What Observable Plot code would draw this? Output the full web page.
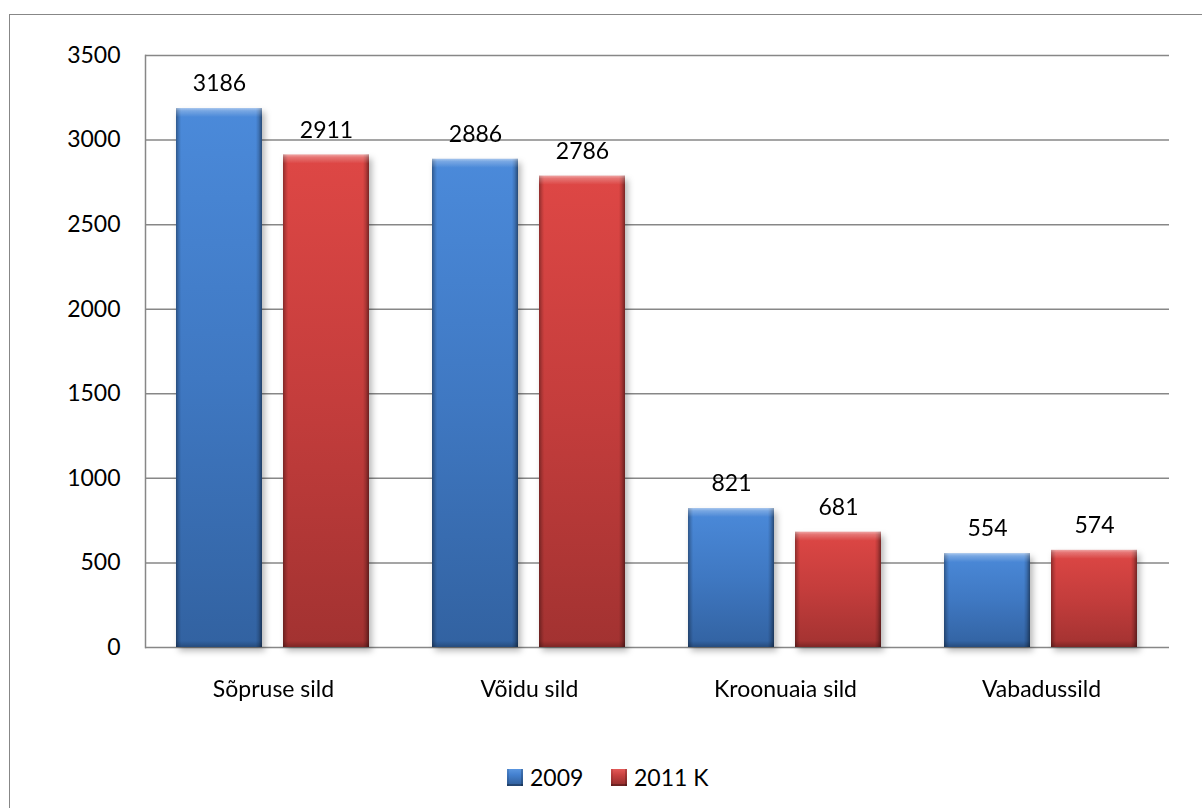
<!DOCTYPE html>
<html><head><meta charset="utf-8">
<script src="https://cdn.jsdelivr.net/npm/d3@7"></script>
<script src="https://cdn.jsdelivr.net/npm/@observablehq/plot@0.6"></script>
<style>
body{margin:0;background:#fff;font-family:Lato,"Open Sans",sans-serif;}
#wrap{position:relative;width:1202px;height:808px;overflow:hidden;background:#fff;}
#frame{position:absolute;left:9px;top:14px;width:1400px;height:1000px;border-left:1.5px solid #878787;border-top:1.5px solid #878787;box-sizing:border-box;}
#chart{position:absolute;left:0;top:0;}
.leg{position:absolute;top:766px;height:22px;display:flex;align-items:center;font-size:23px;color:#000;white-space:nowrap;}
.sw{width:16px;height:17px;margin-right:7px;box-sizing:border-box;}
</style>
</head><body>
<div id="wrap">
  <div id="frame"></div>
  <div id="chart"></div>
  <div class="leg" style="left:507px"><div class="sw" id="sw0"></div><span id="lt0"></span></div>
  <div class="leg" style="left:611px"><div class="sw" id="sw1"></div><span id="lt1"></span></div>
</div>
<script>
const categories = ["Sõpruse sild", "Võidu sild", "Kroonuaia sild", "Vabadussild"];
const seriesNames = ["2009", "2011 K"];
const values2009 = [3186, 2886, 821, 554];
const values2011K = [2911, 2786, 681, 574];
const yTicks = [0, 500, 1000, 1500, 2000, 2500, 3000, 3500];

const data = categories.flatMap((c, i) => [
  {cat: c, series: seriesNames[0], value: values2009[i]},
  {cat: c, series: seriesNames[1], value: values2011K[i]}
]);

const grid = "#878787";
const fxOpts = {fx: "cat", x: "series"};

const chart = Plot.plot({
  width: 1202,
  height: 740,
  marginLeft: 143,
  marginRight: 32,
  marginTop: 55,
  marginBottom: 93,
  style: {fontFamily: "Lato, 'Open Sans', sans-serif", fontSize: "23px", color: "#000", background: "transparent", overflow: "visible"},
  fx: {domain: categories, padding: 0, label: null},
  x: {domain: seriesNames, paddingInner: 0.194, paddingOuter: 0.286, axis: null},
  y: {domain: [0, 3500], label: null},
  color: {type: "ordinal", domain: seriesNames, range: ["url(#gBlue)", "url(#gRed)"]},
  marks: [
    Plot.ruleY(yTicks, {stroke: grid, strokeWidth: 1.5}),
    Plot.barY(data, {...fxOpts, y: "value", fill: "series", ariaDescription: "mainbars"}),
    Plot.barY(data, {...fxOpts, y: "value", fill: "url(#gEdge)"}),
    Plot.barY(data, {...fxOpts, y1: "value", y2: "value", insetBottom: -9, fill: "url(#gTop)"}),
    Plot.barY(data, {...fxOpts, y1: 0, y2: 0, insetTop: -6, fill: "url(#gBot)"}),
    Plot.text(data, {...fxOpts, y: "value", text: d => String(d.value), dy: -25, lineAnchor: "middle", fill: "#000", fontSize: 23}),
    Plot.frame({anchor: "left", facetAnchor: "left", stroke: grid, strokeWidth: 1.5}),
    Plot.axisY({ticks: yTicks, tickSize: 0, tickPadding: 25, tickFormat: d => String(d), label: null, fontSize: 23}),
    Plot.axisFx({anchor: "bottom", tickSize: 0, tickPadding: 33, label: null, fontSize: 23})
  ]
});

const svg = d3.select(chart);
const defs = svg.insert("defs", ":first-child");
function vgrad(id, stops) {
  const g = defs.append("linearGradient").attr("id", id).attr("x1", 0).attr("y1", 0).attr("x2", 0).attr("y2", 1);
  stops.forEach(([o, c, a]) => g.append("stop").attr("offset", o).attr("stop-color", c).attr("stop-opacity", a == null ? 1 : a));
}
function hgrad(id, stops) {
  const g = defs.append("linearGradient").attr("id", id).attr("x1", 0).attr("y1", 0).attr("x2", 1).attr("y2", 0);
  stops.forEach(([o, c, a]) => g.append("stop").attr("offset", o).attr("stop-color", c).attr("stop-opacity", a == null ? 1 : a));
}
vgrad("gBlue", [[0, "#4B8ADA"], [0.5, "#3F78C2"], [1, "#3262A1"]]);
vgrad("gRed", [[0, "#DE4745"], [0.5, "#C43D3C"], [1, "#A23231"]]);
hgrad("gEdge", [[0, "#000", 0.35], [0.035, "#000", 0.12], [0.06, "#000", 0], [0.93, "#000", 0], [0.96, "#000", 0.15], [1, "#000", 0.45]]);
vgrad("gTop", [[0, "#fff", 0.5], [0.3, "#fff", 0.25], [1, "#fff", 0]]);
vgrad("gBot", [[0, "#000", 0], [1, "#000", 0.22]]);

svg.selectAll('g[aria-description="mainbars"]').style("filter", "drop-shadow(3px 4px 3px rgba(0,0,0,0.28))");

document.getElementById("chart").appendChild(chart);

// legend
const swStyle = [
  "linear-gradient(180deg, #5A96E0 0%, #4380CF 35%, #2F5C96 100%)",
  "linear-gradient(180deg, #E45A58 0%, #C94241 35%, #8E2B2A 100%)"
];
seriesNames.forEach((s, i) => {
  document.getElementById("lt" + i).textContent = s;
  const sw = document.getElementById("sw" + i);
  sw.style.background = swStyle[i];
  sw.style.boxShadow = "inset 0 -2px 0 rgba(0,0,0,0.25), inset 2px 0 0 rgba(0,0,0,0.1), inset -2px 0 0 rgba(0,0,0,0.2)";
});
</script>
</body></html>
